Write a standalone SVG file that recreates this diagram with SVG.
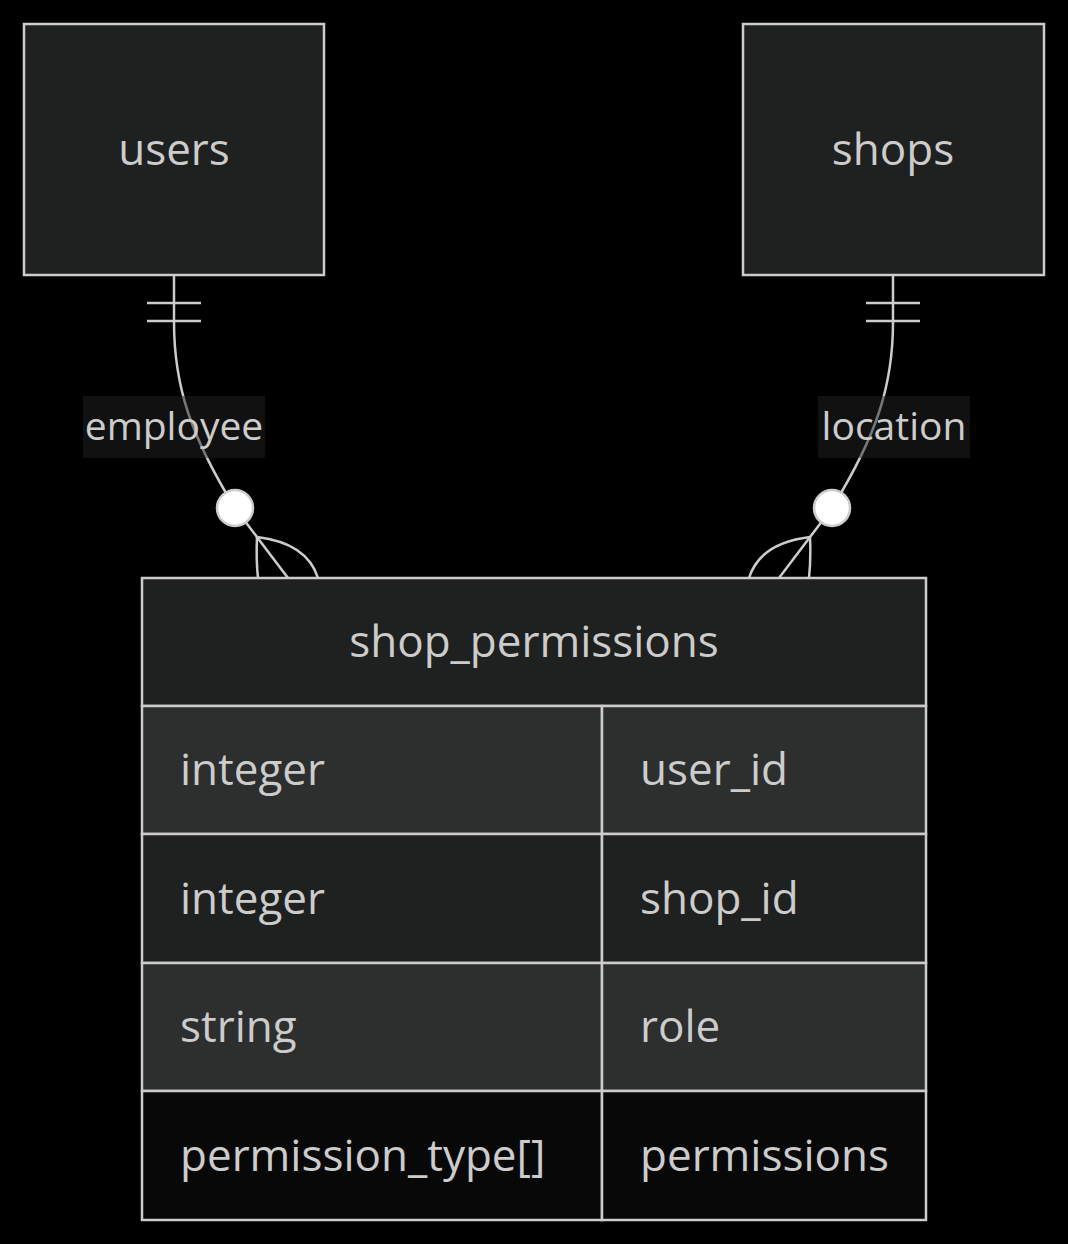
<svg xmlns="http://www.w3.org/2000/svg" width="1068" height="1244" viewBox="0 0 1068 1244">
<style>
text{font-family:"Open Sans","Noto Sans","DejaVu Sans",sans-serif;fill:#cccccc}
.box{fill:#1f2020;stroke:#cccccc;stroke-width:2.5}
.t{font-size:44px}
.mid{text-anchor:middle}
.lbl{font-size:39px;text-anchor:middle}
.edge{fill:none;stroke:#cccccc;stroke-width:2.5}
.lblbg{fill:#222222;opacity:0.5}
.odd{fill:#2d2e2e;stroke:#cccccc;stroke-width:2.5}
.even{fill:#1f2020;stroke:#cccccc;stroke-width:2.5}
.last{fill:#080808;stroke:#cccccc;stroke-width:2.5}
</style>
<rect width="1068" height="1244" fill="#000000"/>
<g id="connectors">
<g id="edge-employee">
<path class="edge" d="M174,275 L174,322 C174,385 190,435 235,508 L288,578"/>
<path class="edge" d="M147,303 L201,303 M147,321 L201,321"/>
<path class="edge" d="M257,537 Q256,560 258,578 M257,537 Q307,543 318,578"/>
<circle cx="235" cy="508" r="18" fill="#ffffff" stroke="#cccccc" stroke-width="2.5"/>
<rect class="lblbg" x="83" y="396" width="182" height="62"/>
<text class="lbl" x="174" y="440">employee</text>
</g>
<g id="edge-location">
<path class="edge" d="M893,275 L893,322 C893,385 877,435 832,508 L779,578"/>
<path class="edge" d="M866,303 L920,303 M866,321 L920,321"/>
<path class="edge" d="M810,537 Q811,560 809,578 M810,537 Q760,543 749,578"/>
<circle cx="832" cy="508" r="18" fill="#ffffff" stroke="#cccccc" stroke-width="2.5"/>
<rect class="lblbg" x="818" y="396" width="152" height="62"/>
<text class="lbl" x="894" y="440">location</text>
</g>
</g>
<g id="users">
<rect class="box" x="24" y="24" width="300" height="251"/>
<text class="t mid" x="174" y="165">users</text>
</g>
<g id="shops">
<rect class="box" x="743" y="24" width="301" height="251"/>
<text class="t mid" x="893" y="165">shops</text>
</g>
<g id="shop_permissions">
<rect class="box" x="142" y="578" width="784" height="128"/>
<text class="t mid" x="534" y="657">shop_permissions</text>
<rect class="odd" x="142" y="706" width="460" height="128"/>
<rect class="odd" x="602" y="706" width="324" height="128"/>
<rect class="even" x="142" y="834" width="460" height="129"/>
<rect class="even" x="602" y="834" width="324" height="129"/>
<rect class="odd" x="142" y="963" width="460" height="128"/>
<rect class="odd" x="602" y="963" width="324" height="128"/>
<rect class="last" x="142" y="1091" width="460" height="129"/>
<rect class="last" x="602" y="1091" width="324" height="129"/>
<text class="t" x="180" y="785">integer</text>
<text class="t" x="640" y="785">user_id</text>
<text class="t" x="180" y="914">integer</text>
<text class="t" x="640" y="914">shop_id</text>
<text class="t" x="180" y="1042">string</text>
<text class="t" x="640" y="1042">role</text>
<text class="t" x="180" y="1171">permission_type[]</text>
<text class="t" x="640" y="1171">permissions</text>
</g>
</svg>
